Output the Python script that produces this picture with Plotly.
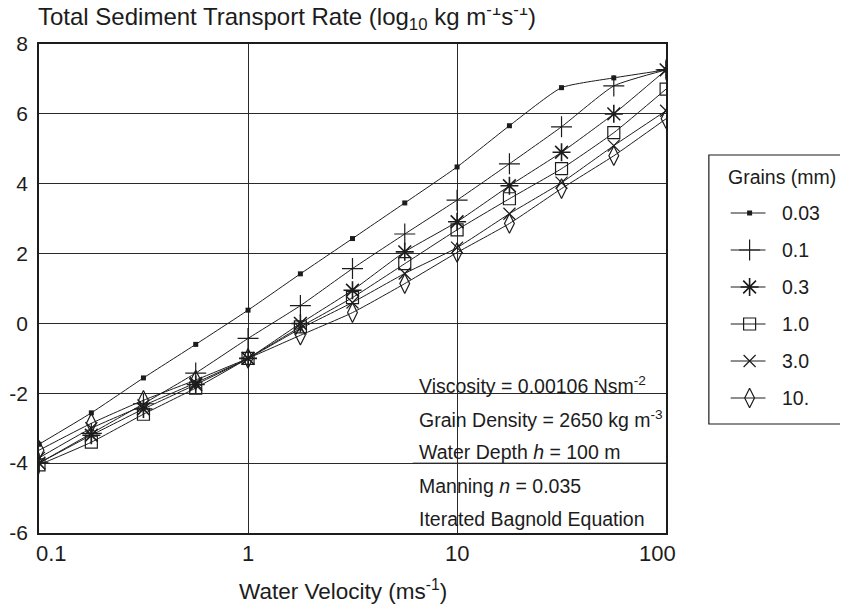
import plotly.graph_objects as go
import math

# ---------------- data ----------------
velocity = [0.1, 0.178, 0.316, 0.562, 1.0, 1.78, 3.16, 5.62, 10.0, 17.8, 31.6, 56.2, 100.0]

rate_0_03 = [-3.46, -2.56, -1.56, -0.60, 0.38, 1.42, 2.43, 3.45, 4.48, 5.66, 6.75, 7.03, 7.26]
rate_0_1 = [-4.00, -3.15, -2.30, -1.42, -0.43, 0.51, 1.57, 2.56, 3.53, 4.57, 5.63, 6.80, 7.26]
rate_0_3 = [-4.00, -3.20, -2.45, -1.75, -1.00, 0.00, 0.95, 2.05, 2.91, 3.94, 4.90, 6.00, 7.26]
rate_1_0 = [-4.05, -3.40, -2.60, -1.85, -1.00, -0.10, 0.74, 1.71, 2.68, 3.57, 4.43, 5.46, 6.71]
rate_3_0 = [-3.85, -3.00, -2.35, -1.70, -1.00, -0.15, 0.60, 1.43, 2.17, 3.14, 4.03, 5.09, 6.09]
rate_10 = [-3.63, -2.86, -2.20, -1.62, -1.00, -0.34, 0.31, 1.14, 2.03, 2.86, 3.86, 4.80, 5.86]

grain_labels = ["0.03", "0.1", "0.3", "1.0", "3.0", "10."]
series = [rate_0_03, rate_0_1, rate_0_3, rate_1_0, rate_3_0, rate_10]

y_ticks = [-6, -4, -2, 0, 2, 4, 6, 8]
y_tick_labels = ["-6", "-4", "-2", "0", "2", "4", "6", "8"]
x_ticks = [0.1, 1, 10, 100]
x_tick_labels = ["0.1", "1", "10", "100"]

info_lines = [
    "Viscosity = 0.00106 Nsm<sup>-2</sup>",
    "Grain Density = 2650 kg m<sup>-3</sup>",
    "Water Depth <i>h</i> = 100 m",
    "Manning <i>n</i> = 0.035",
    "Iterated Bagnold Equation",
]

title_text = "Total Sediment Transport Rate (log<sub>10</sub> kg m<sup>-1</sup>s<sup>-1</sup>)"
x_title_text = "Water Velocity (ms<sup>-1</sup>)"
legend_title = "Grains (mm)"

# ---------------- styles ----------------
FONT = "Liberation Sans, Arial, Helvetica, sans-serif"
INK = "#1c1c1c"
GRID = "#2a2a2a"
marker_styles = [
    dict(symbol="square", size=5, color=INK, line=dict(width=0, color=INK)),
    dict(symbol="cross-thin", size=15, color=INK, line=dict(width=1.2, color=INK)),
    dict(symbol="asterisk", size=15, color=INK, line=dict(width=1.6, color=INK)),
    dict(symbol="square-open", size=12, color=INK, line=dict(width=1.2, color=INK)),
    dict(symbol="x-thin", size=12, color=INK, line=dict(width=1.2, color=INK)),
    dict(symbol="diamond-tall-open", size=14, color=INK, line=dict(width=1.2, color=INK)),
]

# page body has an 8px margin; positions below are given in screenshot pixels
OFF = 8
W, H = 848 - OFF, 609 - OFF
plot_left, plot_top, plot_right, plot_bottom = 34, 44, 665, 533
ML = plot_left - OFF
MT = plot_top - OFF
MR = 1
MB = H - (plot_bottom - OFF)
PW = W - ML - MR
PH = H - MT - MB
x_dom_end = (plot_right - plot_left) / PW


def px_to_paper_x(px):
    return (px - plot_left) / PW


def px_to_paper_y(py):
    return (plot_bottom - py) / PH


fig = go.Figure()

for vals, lab, ms in zip(series, grain_labels, marker_styles):
    fig.add_trace(go.Scatter(
        x=velocity, y=vals, mode="lines+markers", name=lab,
        line=dict(color=INK, width=1, shape="spline", smoothing=0.5),
        marker=ms, showlegend=False, xaxis="x", yaxis="y",
    ))

# ---------- manual legend on its own axes ----------
leg_left, leg_right, leg_top, leg_bottom = 708, 847, 155, 424
leg_w = leg_right - leg_left
leg_h = leg_bottom - leg_top
first_entry = 58
entry_gap = 37
for i, (lab, ms) in enumerate(zip(grain_labels, marker_styles)):
    yy = first_entry + entry_gap * i
    fig.add_trace(go.Scatter(
        x=[22, 41, 57], y=[yy, yy, yy], mode="lines", xaxis="x2", yaxis="y2",
        line=dict(color=INK, width=1), showlegend=False, hoverinfo="skip",
    ))
    fig.add_trace(go.Scatter(
        x=[41], y=[yy], mode="markers", xaxis="x2", yaxis="y2",
        marker=ms, showlegend=False, hoverinfo="skip",
    ))
    fig.add_annotation(
        x=72, y=yy, xref="x2", yref="y2", text=lab, showarrow=False,
        xanchor="left", yanchor="middle", align="left",
        font=dict(size=19.5, color=INK, family=FONT),
    )
fig.add_annotation(
    x=leg_w / 2 + 4, y=22, xref="x2", yref="y2", text=legend_title, showarrow=False,
    xanchor="center", yanchor="middle", font=dict(size=19.5, color=INK, family=FONT),
)

# ---------- layout ----------
fig.update_layout(
    width=W, height=H,
    margin=dict(l=ML, r=MR, t=MT, b=MB),
    paper_bgcolor="white", plot_bgcolor="white",
    font=dict(family=FONT, color=INK, size=20),
    xaxis=dict(
        type="log", range=[-1, 2], domain=[0, x_dom_end],
        tickvals=x_ticks, showticklabels=False, ticks="",
        showgrid=True, gridcolor=GRID, gridwidth=1,
        showline=True, linecolor=INK, linewidth=1.5, mirror=True, zeroline=False,
    ),
    yaxis=dict(
        range=[-6, 8], tickvals=y_ticks, ticktext=y_tick_labels, ticks="",
        showgrid=True, gridcolor=GRID, gridwidth=1,
        showline=True, linecolor=INK, linewidth=1.5, mirror=True, zeroline=False,
        tickfont=dict(size=21, color=INK, family=FONT), ticklabelstandoff=5,
    ),
    xaxis2=dict(
        domain=[px_to_paper_x(leg_left), min(1.0, px_to_paper_x(leg_right))], range=[0, leg_w],
        visible=False, anchor="y2", fixedrange=True,
    ),
    yaxis2=dict(
        domain=[px_to_paper_y(leg_bottom), px_to_paper_y(leg_top)], range=[leg_h, 0],
        visible=False, anchor="x2", fixedrange=True,
    ),
    showlegend=False,
)

# legend frame
fig.add_shape(type="rect", xref="paper", yref="paper",
              x0=px_to_paper_x(leg_left), x1=min(1.0, px_to_paper_x(leg_right)),
              y0=px_to_paper_y(leg_bottom), y1=px_to_paper_y(leg_top),
              line=dict(color=INK, width=1.2), fillcolor="rgba(0,0,0,0)")

# info box (white, hides grid), then -4 grid line redrawn on top
box_left_px, box_top_px = 410, 368
fig.add_shape(type="rect", xref="paper", yref="paper", layer="between",
              x0=px_to_paper_x(box_left_px), x1=x_dom_end,
              y0=0, y1=px_to_paper_y(box_top_px),
              line=dict(width=0), fillcolor="white")
fig.add_shape(type="line", xref="paper", yref="y", layer="between",
              x0=px_to_paper_x(box_left_px), x1=x_dom_end, y0=-4, y1=-4,
              line=dict(color=GRID, width=1))

first_line_px = 385
line_gap_px = 33.5
for i, t in enumerate(info_lines):
    fig.add_annotation(
        x=px_to_paper_x(414), y=px_to_paper_y(first_line_px + line_gap_px * i),
        xref="paper", yref="paper", text=t, showarrow=False,
        xanchor="left", yanchor="middle", align="left",
        font=dict(size=19.5, color=INK, family=FONT),
    )

# x tick labels (edge labels nudged inward, as in the original)
label_shift = {0: 12, len(x_ticks) - 1: -9}
for i, (tv, tl) in enumerate(zip(x_ticks, x_tick_labels)):
    fig.add_annotation(
        x=math.log10(tv), y=px_to_paper_y(553), xref="x", yref="paper",
        text=tl, showarrow=False, xanchor="center", yanchor="middle",
        xshift=label_shift.get(i, 0), font=dict(size=22, color=INK, family=FONT),
    )

# titles
fig.add_annotation(
    x=px_to_paper_x(284), y=px_to_paper_y(17), xref="paper", yref="paper",
    text=title_text, showarrow=False, xanchor="center", yanchor="middle",
    font=dict(size=24, color=INK, family=FONT),
)
fig.add_annotation(
    x=px_to_paper_x(340), y=px_to_paper_y(590), xref="paper", yref="paper",
    text=x_title_text, showarrow=False, xanchor="center", yanchor="middle",
    font=dict(size=22.5, color=INK, family=FONT),
)

fig.write_html("out.html")
